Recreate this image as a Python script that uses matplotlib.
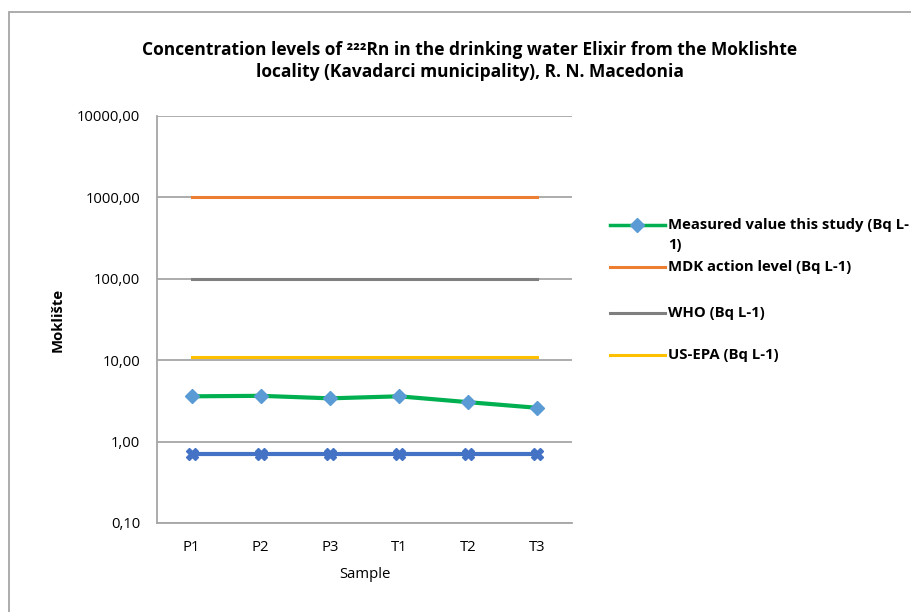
import matplotlib
matplotlib.use("Agg")
import matplotlib.pyplot as plt
from matplotlib.lines import Line2D
from matplotlib.patches import Rectangle
from matplotlib.ticker import FixedLocator, NullLocator
import numpy as np

plt.rcParams["font.family"] = ["Open Sans", "DejaVu Sans"]

samples = ["P1", "P2", "P3", "T1", "T2", "T3"]
measured = [3.6, 3.65, 3.4, 3.6, 3.05, 2.6]
mdk = [1000, 1000, 1000, 1000, 1000, 1000]
who = [100, 100, 100, 100, 100, 100]
us_epa = [11.1, 11.1, 11.1, 11.1, 11.1, 11.1]
lower = [0.7, 0.7, 0.7, 0.7, 0.7, 0.7]
y_ticks = [0.1, 1, 10, 100, 1000, 10000]

W, H = 912, 612
FS = 10.7
fig = plt.figure(figsize=(W / 100, H / 100), dpi=100)
ax = fig.add_axes([157 / W, 1 - 523 / H, 415 / W, 407 / H])

x = np.arange(len(samples))
green, orange, grey, yellow, blue = "#00B050", "#ED7D31", "#7F7F7F", "#FFC000", "#4472C4"

ax.plot(x, lower, color=blue, lw=3, marker="X", ms=8, mfc=blue, mec=blue, zorder=3)
ax.plot(x, mdk, color=orange, lw=2.2, zorder=3)
ax.plot(x, who, color=grey, lw=2.2, zorder=3)
ax.plot(x, us_epa, color=yellow, lw=2.2, zorder=3)
ax.plot(x, measured, color=green, lw=3, marker="D", ms=7, mfc="#5B9BD5", mec="#5B9BD5", zorder=4)

ax.set_yscale("log")
ax.set_ylim(0.1, 10000)
ax.set_xlim(-0.5, len(samples) - 0.5)
ax.yaxis.set_major_locator(FixedLocator(y_ticks))
ax.yaxis.set_minor_locator(NullLocator())
ax.set_yticklabels([f"{v:.2f}".replace(".", ",") for v in y_ticks], fontsize=FS)
ax.set_xticks(x)
ax.set_xticklabels(samples, fontsize=FS)
ax.tick_params(axis="y", length=0, pad=12)
ax.tick_params(axis="x", length=0, pad=12)
ax.grid(axis="y", color="#A6A6A6", lw=1.3)
ax.set_axisbelow(True)
for side in ["top", "right"]:
    ax.spines[side].set_visible(False)
for side in ["left", "bottom"]:
    ax.spines[side].set_color("#A6A6A6")
    ax.spines[side].set_linewidth(1.3)

ax.set_xlabel("Sample", fontsize=FS, labelpad=9)
fig.text(58 / W, 1 - 320 / H, "Moklište", rotation=90, fontsize=FS, fontweight="bold",
         ha="center", va="center")

fig.text(470 / W, 1 - 61 / H,
         "Concentration levels of ²²²Rn in the drinking water Elixir from the Moklishte\n"
         "locality (Kavadarci municipality), R. N. Macedonia",
         ha="center", va="center", fontsize=12.5, fontweight="bold", linespacing=1.25)

# legend drawn by hand to keep Excel's wrapped first entry
legend = [
    (["Measured value this study (Bq L-", "1)"], green, "D", 225),
    (["MDK action level (Bq L-1)"], orange, None, 267),
    (["WHO (Bq L-1)"], grey, None, 313),
    (["US-EPA (Bq L-1)"], yellow, None, 355),
]
for lines, col, mk, yp in legend:
    yf = 1 - yp / H
    fig.add_artist(Line2D([610 / W, 665 / W], [yf, yf], color=col, lw=2.5 if mk else 2.2,
                          transform=fig.transFigure))
    if mk:
        fig.add_artist(Line2D([637.5 / W], [yf], marker=mk, ms=7, color="#5B9BD5",
                              transform=fig.transFigure))
    for i, txt in enumerate(lines):
        fig.text(668 / W, 1 - (yp + 20 * i) / H, txt, ha="left", va="center",
                 fontsize=FS, fontweight="bold")

fig.add_artist(Rectangle((9 / W, -0.1), 1.2, 1 - 12 / H + 0.1, fill=False,
                         edgecolor="#A6A6A6", lw=1.3, transform=fig.transFigure))

fig.savefig("out.png", dpi=100)
